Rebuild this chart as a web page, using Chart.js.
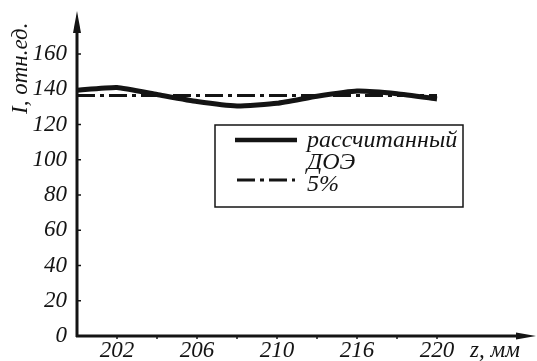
<!DOCTYPE html>
<html>
<head>
<meta charset="utf-8">
<script src="https://cdn.jsdelivr.net/npm/chart.js@4.4.0/dist/chart.umd.min.js"></script>
<style>
  html, body { margin: 0; padding: 0; background: #fff; }
  #wrap { width: 537px; height: 361px; }
</style>
</head>
<body>
<div id="wrap"><canvas id="grafico"></canvas></div>
<script>
const xLabels = ['', '202', '', '206', '', '210', '', '216', '', '220'];
const calcValues = [139.5, 141, 137, 133, 130.5, 132, 136, 139, 137.5, 134.5];
const doeValues = [136.5, 136.5, 136.5, 136.5, 136.5, 136.5, 136.5, 136.5, 136.5, 136.5];
const yTicks = [0, 20, 40, 60, 80, 100, 120, 140, 160];
const legendTexts = ['рассчитанный', 'ДОЭ', '5%'];
const yTitle = 'I, отн.ед.';
const xTitle = 'z, мм';

const serif = '"Liberation Serif", serif';
const ink = '#141414';

// axes with arrows, tick labels, titles and the boxed legend
const decor = {
  id: 'decor',
  afterDraw(chart) {
    const ctx = chart.ctx;
    const area = chart.chartArea;
    const x0 = area.left, y0 = area.bottom;
    const xs = chart.scales.x;
    const ys = chart.scales.y;
    ctx.save();
    ctx.strokeStyle = ink;
    ctx.fillStyle = ink;
    ctx.lineWidth = 3;

    // y axis
    ctx.beginPath();
    ctx.moveTo(x0, y0 + 1);
    ctx.lineTo(x0, 25);
    ctx.stroke();
    ctx.beginPath();
    ctx.moveTo(x0, 11);
    ctx.lineTo(x0 - 4, 33);
    ctx.lineTo(x0 + 4, 33);
    ctx.closePath();
    ctx.fill();

    // x axis
    ctx.beginPath();
    ctx.moveTo(x0 - 1, y0);
    ctx.lineTo(520, y0);
    ctx.stroke();
    ctx.beginPath();
    ctx.moveTo(536, y0);
    ctx.lineTo(516, y0 - 3.5);
    ctx.lineTo(516, y0 + 3.5);
    ctx.closePath();
    ctx.fill();

    // small ticks
    ctx.lineWidth = 1.5;
    yTicks.forEach(v => {
      const py = ys.getPixelForValue(v);
      ctx.beginPath();
      ctx.moveTo(x0, py);
      ctx.lineTo(x0 + 4, py);
      ctx.stroke();
    });
    xLabels.forEach((lab, i) => {
      if (i === 0) return;
      const px = xs.getPixelForTick(i);
      ctx.beginPath();
      ctx.moveTo(px, y0);
      ctx.lineTo(px, y0 + 3);
      ctx.stroke();
    });

    // tick labels
    ctx.font = 'italic 23px ' + serif;
    ctx.textAlign = 'right';
    ctx.textBaseline = 'middle';
    yTicks.forEach(v => {
      ctx.fillText(String(v), x0 - 10, ys.getPixelForValue(v));
    });
    ctx.textAlign = 'center';
    ctx.textBaseline = 'top';
    xLabels.forEach((lab, i) => {
      if (lab) ctx.fillText(lab, xs.getPixelForTick(i), y0 + 3);
    });

    // titles
    ctx.textAlign = 'left';
    ctx.textBaseline = 'alphabetic';
    ctx.save();
    ctx.translate(27, 114);
    ctx.rotate(-Math.PI / 2);
    ctx.fillText(yTitle, 0, 0);
    ctx.restore();
    ctx.fillText(xTitle, 470, 357);

    // legend
    ctx.lineWidth = 1.5;
    ctx.strokeRect(215, 125, 248, 82);
    ctx.lineWidth = 4.5;
    ctx.beginPath();
    ctx.moveTo(235, 140);
    ctx.lineTo(297, 140);
    ctx.stroke();
    ctx.lineWidth = 3;
    ctx.setLineDash([18, 5, 4, 5]);
    ctx.beginPath();
    ctx.moveTo(237, 180);
    ctx.lineTo(295, 180);
    ctx.stroke();
    ctx.setLineDash([]);
    ctx.font = 'italic 24px ' + serif;
    ctx.fillText(legendTexts[0], 307, 147);
    ctx.fillText(legendTexts[1], 307, 169);
    ctx.fillText(legendTexts[2], 307, 191);
    ctx.restore();
  }
};

new Chart(document.getElementById('grafico'), {
  type: 'line',
  data: {
    labels: xLabels,
    datasets: [
      {
        label: legendTexts[0],
        data: calcValues,
        borderColor: ink,
        borderWidth: 5,
        tension: 0.15,
        pointRadius: 0,
        fill: false,
        clip: false
      },
      {
        label: legendTexts[2],
        data: doeValues,
        borderColor: ink,
        borderWidth: 3,
        borderDash: [18, 5, 4, 5],
        pointRadius: 0,
        fill: false,
        clip: false
      }
    ]
  },
  options: {
    responsive: true,
    maintainAspectRatio: false,
    animation: false,
    layout: { padding: { top: 54, right: 100, left: 0, bottom: 0 } },
    plugins: {
      legend: { display: false },
      tooltip: { enabled: false }
    },
    scales: {
      x: {
        type: 'category',
        offset: false,
        border: { display: false },
        grid: { display: false },
        ticks: { display: false, autoSkip: false },
        afterFit: s => { s.height = 25; }
      },
      y: {
        min: 0,
        max: 160,
        border: { display: false },
        grid: { display: false },
        ticks: { display: false, stepSize: 20 },
        afterFit: s => { s.width = 77; }
      }
    }
  },
  plugins: [decor]
});
</script>
</body>
</html>
